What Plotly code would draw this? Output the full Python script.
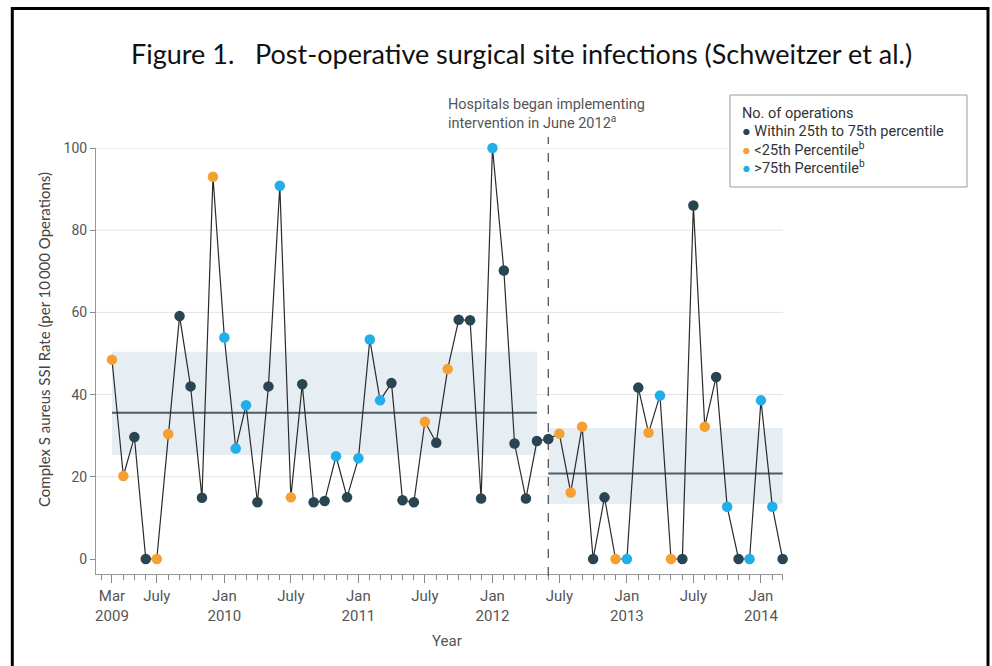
import pandas as pd
import plotly.graph_objects as go

# ---------------- data ----------------
start_month = "2009-03-01"
rates = [48.5, 20.2, 29.7, 0, 0, 30.4, 59.1, 42.0, 14.9, 93.0,
         53.9, 26.9, 37.4, 13.8, 42.0, 90.8, 15.0, 42.5, 13.8, 14.1,
         25.0, 15.0, 24.5, 53.4, 38.6, 42.8, 14.3, 13.8, 33.4, 28.3,
         46.2, 58.2, 58.1, 14.7, 100.0, 70.2, 28.1, 14.7, 28.7, 29.2,
         30.5, 16.2, 32.2, 0, 15.0, 0, 0, 41.7, 30.7, 39.8,
         0, 0, 86.0, 32.2, 44.3, 12.7, 0, 0, 38.6, 12.7,
         0]
# m = within 25th-75th percentile, l = <25th, h = >75th
volume_group = ["l", "l", "m", "m", "l", "l", "m", "m", "m", "l",
                "h", "h", "h", "m", "m", "h", "l", "m", "m", "m",
                "h", "m", "h", "h", "h", "m", "m", "m", "l", "m",
                "l", "m", "m", "m", "h", "m", "m", "m", "m", "m",
                "l", "l", "l", "m", "m", "l", "h", "m", "l", "h",
                "l", "m", "m", "l", "m", "h", "m", "h", "h", "h",
                "m"]
months = pd.date_range(start_month, periods=len(rates), freq="MS")

intervention = "2012-06-01"
periods = [  # start, end, mean, lower, upper
    ("2009-03-01", "2012-05-01", 35.6, 25.3, 50.4),
    ("2012-06-01", "2014-03-01", 20.8, 13.4, 31.9),
]
y_ticks = [0, 20, 40, 60, 80, 100]
x_tickvals = ["2009-03-01", "2009-07-01", "2010-01-01", "2010-07-01", "2011-01-01",
              "2011-07-01", "2012-01-01", "2012-07-01", "2013-01-01", "2013-07-01",
              "2014-01-01"]
x_ticktext = ["Mar<br>2009", "July", "Jan<br>2010", "July", "Jan<br>2011", "July",
              "Jan<br>2012", "July", "Jan<br>2013", "July", "Jan<br>2014"]
legend_labels = {"m": "Within 25th to 75th percentile",
                 "l": "<25th Percentile<sup>b</sup>",
                 "h": ">75th Percentile<sup>b</sup>"}

# ---------------- styles ----------------
colors = {"m": "#2a4552", "l": "#f5a031", "h": "#22aee8"}
W, H = 992, 666
L, R, T, B = 96, 783, 148, 574
TXT = "#555555"
FONT = "Roboto, Open Sans, sans-serif"
TFONT = "Lato, Open Sans, sans-serif"


def px(xp):
    return (xp - L) / (R - L)


def py(yp):
    return (B - yp) / (B - T)


fig = go.Figure()

fig.add_trace(go.Scatter(
    x=months, y=rates, mode="lines+markers",
    line=dict(color="#2b2b2b", width=1.2),
    marker=dict(size=10.5, color=[colors[g] for g in volume_group], line=dict(width=0)),
    cliponaxis=False, showlegend=False, hoverinfo="x+y"))

shapes = []
# gridlines (except zero)
for v in y_ticks[1:]:
    shapes.append(dict(type="line", xref="paper", yref="y", x0=0, x1=1, y0=v, y1=v,
                       line=dict(color="#e2e2e2", width=1), layer="below"))
# period bands and means
for s, e, m, lo, hi in periods:
    shapes.append(dict(type="rect", xref="x", yref="y", x0=s, x1=e, y0=lo, y1=hi,
                       fillcolor="#e6eef3", line=dict(width=0), layer="below"))
    shapes.append(dict(type="line", xref="x", yref="y", x0=s, x1=e, y0=m, y1=m,
                       line=dict(color="#4e5d66", width=2), layer="below"))
# intervention line
shapes.append(dict(type="line", xref="x", yref="paper", x0=intervention, x1=intervention,
                   y0=py(576), y1=py(137), line=dict(color="#555555", width=1.3, dash="dash")))
# legend box
shapes.append(dict(type="rect", xref="paper", yref="paper", x0=px(730), x1=px(967),
                   y0=py(187), y1=py(95), line=dict(color="#9a9a9a", width=1),
                   fillcolor="white"))
# outer frame
shapes.append(dict(type="rect", xref="paper", yref="paper", x0=px(12.3), x1=px(988),
                   y0=py(672), y1=py(8.5), line=dict(color="black", width=3)))

annotations = [
    dict(text="Figure 1.\u00a0\u00a0 Post-operative surgical site infections (Schweitzer et al.)",
         xref="paper", yref="paper", x=px(521), y=py(53), xanchor="center", yanchor="middle",
         showarrow=False, font=dict(family=TFONT, size=27, color="#111111")),
    dict(text="Hospitals began implementing<br>intervention in June 2012<sup>a</sup>",
         xref="paper", yref="paper", x=px(446), y=py(94), xanchor="left", yanchor="top",
         align="left", showarrow=False, font=dict(family=FONT, size=14.5, color=TXT)),
    dict(text="Complex S aureus SSI Rate (per 10\u2009000 Operations)",
         xref="paper", yref="paper", x=px(44), y=py(340), xanchor="center", yanchor="middle",
         textangle=-90, showarrow=False, font=dict(family=TFONT, size=15, color="#444444")),
    dict(text="Year", xref="paper", yref="paper", x=px(447), y=py(641),
         xanchor="center", yanchor="middle", showarrow=False,
         font=dict(family=FONT, size=15, color=TXT)),
    dict(text="No. of operations", xref="paper", yref="paper", x=px(740), y=py(113),
         xanchor="left", yanchor="middle", showarrow=False,
         font=dict(family=FONT, size=14.5, color="#333333")),
]
for i, k in enumerate(["m", "l", "h"]):
    annotations.append(dict(
        text=f"<span style='color:{colors[k]}'>\u25cf</span> {legend_labels[k]}",
        xref="paper", yref="paper", x=px(740), y=py(132 + 17.5 * i),
        xanchor="left", yanchor="middle", showarrow=False,
        font=dict(family=FONT, size=14.5, color="#333333")))

fig.update_layout(
    width=W, height=H, margin=dict(l=L, r=W - R, t=T, b=H - B),
    paper_bgcolor="white", plot_bgcolor="white",
    shapes=shapes, annotations=annotations, showlegend=False,
    xaxis=dict(type="date", range=["2009-01-16 12:00", "2014-03-02"],
               tickvals=x_tickvals, ticktext=x_ticktext, ticks="outside", ticklen=8,
               tickcolor="#888888", showline=True, linecolor="#999999", linewidth=1,
               showgrid=False, zeroline=False,
               tickfont=dict(family=FONT, size=15, color=TXT),
               minor=dict(dtick="M1", tick0=start_month, ticks="outside", ticklen=5,
                          tickcolor="#888888", showgrid=False)),
    yaxis=dict(range=[-3.65, 100], tickvals=y_ticks, ticks="outside", ticklen=5,
               tickcolor="#888888", showline=True, linecolor="#999999", linewidth=1,
               showgrid=False, zeroline=False,
               tickfont=dict(family=FONT, size=14, color=TXT)),
)

fig.write_html("out.html")
